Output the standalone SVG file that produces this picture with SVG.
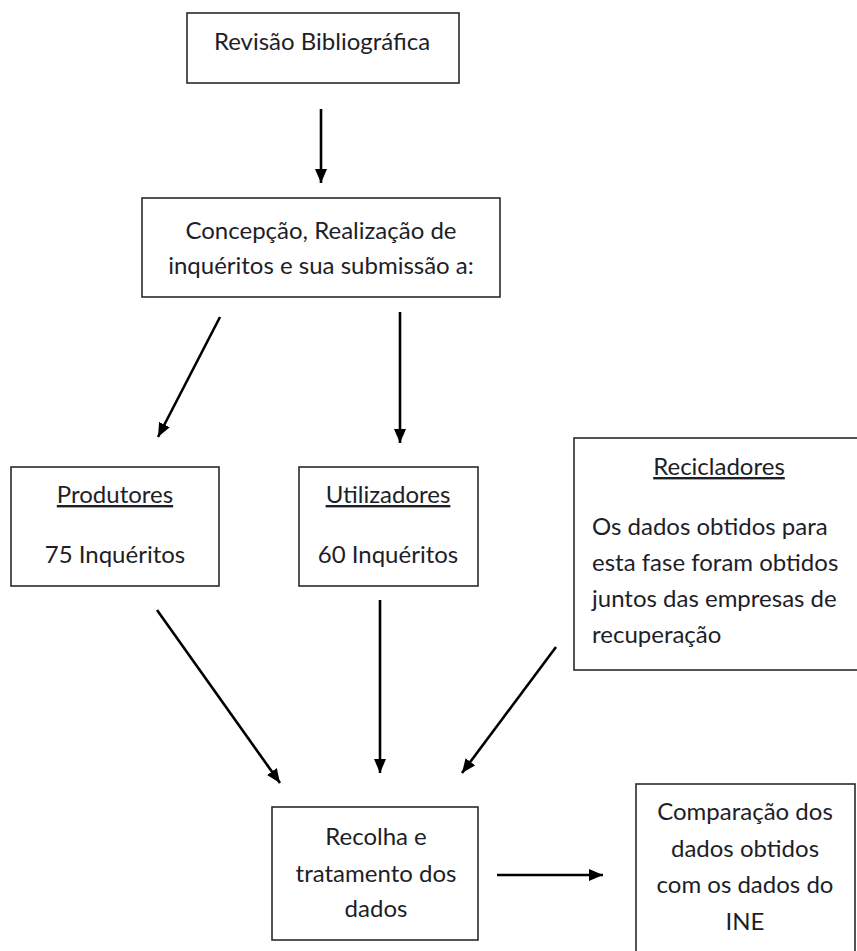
<svg xmlns="http://www.w3.org/2000/svg" width="857" height="951" viewBox="0 0 857 951">
<style>
.box{fill:#fff;stroke:#2a2a2a;stroke-width:1.6}
.t{font-family:Lato,"Open Sans","Liberation Sans",sans-serif;font-size:24px;fill:#1e1e28}
.c{text-anchor:middle}
.u{text-decoration:underline}
.a{stroke:#000;stroke-width:2.6;fill:none;marker-end:url(#ah)}
</style>
<defs>
<marker id="ah" markerUnits="userSpaceOnUse" viewBox="0 0 14 12" refX="14" refY="6" markerWidth="14" markerHeight="12" orient="auto">
<path d="M0,0 L14,6 L0,12 Z" fill="#000"/>
</marker>
</defs>
<rect x="0" y="0" width="857" height="951" fill="#fff"/>
<g id="n1">
<rect class="box" x="187" y="13" width="272" height="70"/>
<text class="t c" x="322" y="50">Revisão Bibliográfica</text>
</g>
<g id="n2">
<rect class="box" x="142" y="198" width="358" height="99"/>
<text class="t c" x="321" y="239">Concepção, Realização de</text>
<text class="t c" x="321" y="274">inquéritos e sua submissão a:</text>
</g>
<g id="n3">
<rect class="box" x="11" y="467" width="208" height="119"/>
<text class="t c u" x="115" y="503">Produtores</text>
<text class="t c" x="115" y="563">75 Inquéritos</text>
</g>
<g id="n4">
<rect class="box" x="299" y="467" width="179" height="119"/>
<text class="t c u" x="388" y="503">Utilizadores</text>
<text class="t c" x="388" y="563">60 Inquéritos</text>
</g>
<g id="n5">
<rect class="box" x="574" y="438" width="290" height="232"/>
<text class="t c u" x="719" y="475">Recicladores</text>
<text class="t" x="592" y="535">Os dados obtidos para</text>
<text class="t" x="592" y="571">esta fase foram obtidos</text>
<text class="t" x="592" y="607">juntos das empresas de</text>
<text class="t" x="592" y="643">recuperação</text>
</g>
<g id="n6">
<rect class="box" x="272" y="807" width="206" height="133"/>
<text class="t c" x="376" y="845">Recolha e</text>
<text class="t c" x="376" y="882">tratamento dos</text>
<text class="t c" x="376" y="917">dados</text>
</g>
<g id="n7">
<rect class="box" x="636" y="784" width="219" height="175"/>
<text class="t c" x="745" y="820">Comparação dos</text>
<text class="t c" x="745" y="857">dados obtidos</text>
<text class="t c" x="745" y="893">com os dados do</text>
<text class="t c" x="745" y="930">INE</text>
</g>
<g id="connectors">
<line class="a" x1="321" y1="109" x2="321" y2="183"/>
<line class="a" x1="220" y1="317" x2="158" y2="437"/>
<line class="a" x1="400" y1="312" x2="400" y2="443"/>
<line class="a" x1="157" y1="610" x2="280" y2="783"/>
<line class="a" x1="380" y1="600" x2="380" y2="773"/>
<line class="a" x1="556" y1="647" x2="462" y2="773"/>
<line class="a" x1="497" y1="875" x2="603" y2="875"/>
</g>
</svg>
